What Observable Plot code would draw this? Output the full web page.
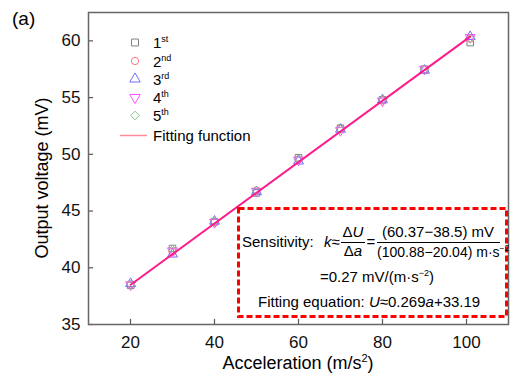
<!DOCTYPE html>
<html>
<head>
<meta charset="utf-8">
<script src="https://cdn.jsdelivr.net/npm/d3@7"></script>
<script src="https://cdn.jsdelivr.net/npm/@observablehq/plot@0.6"></script>
<style>
  html, body { margin: 0; padding: 0; background: #fff; }
  svg text { font-family: "Liberation Sans", Arial, sans-serif; }
</style>
</head>
<body>
<div id="chart"></div>
<script>
// ---- data ----
const accel = [20.04, 30, 40, 50, 60, 70, 80, 90, 100.88];
const run1 = [38.45, 41.7, 44.05, 46.6, 49.7, 52.3, 54.8, 57.5, 59.85];
const run2 = [38.55, 41.4, 44.0, 46.8, 49.55, 52.25, 54.75, 57.45, 60.2];
const run3 = [38.6, 41.2, 44.1, 46.7, 49.4, 52.2, 54.8, 57.4, 60.37];
const run4 = [38.5, 41.5, 44.0, 46.75, 49.5, 52.1, 54.7, 57.5, 60.3];
const run5 = [38.55, 41.6, 44.1, 46.8, 49.6, 52.2, 54.85, 57.5, 60.2];
const fitX = [20.04, 100.88];
const fitY = [38.5, 60.37];
const xTicks = [20, 40, 60, 80, 100];
const yTicks = [35, 40, 45, 50, 55, 60];
const seriesNames = ["1", "2", "3", "4", "5"];
const seriesSup = ["st", "nd", "rd", "th", "th"];
const seriesColors = ["#808080", "#ff7b7b", "#6f6fff", "#ff50ff", "#86c886"];

const triDown = {
  draw(ctx, size) {
    const s3 = Math.sqrt(3);
    const y = -Math.sqrt(size / (s3 * 3));
    ctx.moveTo(0, -y * 2);
    ctx.lineTo(-s3 * y, y);
    ctx.lineTo(s3 * y, y);
    ctx.closePath();
  }
};
const symbols = [d3.symbolSquare, d3.symbolCircle, d3.symbolTriangle, triDown, d3.symbolDiamond2];
const runs = [run1, run2, run3, run4, run5];

const dotMarks = runs.map((vals, i) =>
  Plot.dot(accel.map((a, j) => ({a, v: vals[j]})), {
    x: "a", y: "v", symbol: () => symbols[i], r: 3.7,
    stroke: seriesColors[i], strokeWidth: 1, fill: "none"
  })
);
const fitData = fitX.map((a, j) => ({a, v: fitY[j]}));

const plot = Plot.plot({
  width: 511, height: 378,
  marginLeft: 88, marginRight: 3, marginTop: 12, marginBottom: 54,
  style: {fontFamily: "Liberation Sans, Arial, sans-serif", fontSize: "17px", color: "#000", background: "#fff", overflow: "visible"},
  x: {domain: [10, 110]},
  y: {domain: [35, 62.5]},
  symbol: {type: "identity"},
  marks: [
    Plot.axisX({ticks: xTicks, tickSize: 0, tickPadding: 11, label: null, fontSize: 17, fill: "#111"}),
    Plot.axisY({ticks: yTicks, tickSize: 0, tickPadding: 8, label: null, fontSize: 17, fill: "#111"}),
    Plot.ruleX(xTicks, {x: d => d, y1: 35, y2: 35.45, stroke: "#555", strokeWidth: 1.2}),
    Plot.ruleY(yTicks, {y: d => d, x1: 10, x2: 11.2, stroke: "#555", strokeWidth: 1.2}),
    ...dotMarks,
    Plot.line(fitData, {x: "a", y: "v", stroke: "#ff1a8c", strokeWidth: 2}),
    Plot.frame({stroke: "#666", strokeWidth: 1.5})
  ]
});
document.getElementById("chart").appendChild(plot);

const svg = d3.select(plot);
const FF = "Liberation Sans, Arial, sans-serif";
function txt(x, y, size, anchor) {
  return svg.append("text").attr("x", x).attr("y", y).attr("font-size", size)
    .attr("font-family", FF).attr("text-anchor", anchor || "start").attr("fill", "#000");
}

// panel label
txt(12, 25, 19).text("(a)");

// axis titles
txt(298, 369, 18, "middle")
  .call(t => { t.append("tspan").text("Acceleration (m/s"); t.append("tspan").attr("dy", -7).attr("font-size", 11).text("2"); t.append("tspan").attr("dy", 7).text(")"); });
svg.append("text").attr("transform", "translate(48,178) rotate(-90)").attr("text-anchor", "middle").attr("font-size", 18).attr("font-family", FF)
  .text("Output voltage (mV)");

// legend
const legBase = [48, 66.5, 84.5, 103, 121];
legBase.forEach((b, i) => {
  svg.append("path").attr("d", d3.symbol(symbols[i], i === 1 ? 42 : 48)())
    .attr("transform", `translate(135,${b - 5.5})`).attr("fill", "none").attr("stroke", seriesColors[i]).attr("stroke-width", 1);
  const t = txt(153, b, 15);
  t.append("tspan").text(seriesNames[i]);
  t.append("tspan").attr("dy", -6).attr("font-size", 9).text(seriesSup[i]);
});
svg.append("line").attr("x1", 120).attr("x2", 147).attr("y1", 135.5).attr("y2", 135.5).attr("stroke", "#ff8a9a").attr("stroke-width", 1.5);
txt(153, 141, 15).text("Fitting function");

// annotation box
svg.append("rect").attr("x", 238.5).attr("y", 208.5).attr("width", 268).attr("height", 108)
  .attr("fill", "#fff").attr("stroke", "#ff0000").attr("stroke-width", 3).attr("stroke-dasharray", "6,3");

const fs = 15;
txt(242, 247, fs).text("Sensitivity:");
txt(324, 247, fs).call(t => { t.append("tspan").attr("font-style", "italic").text("k"); t.append("tspan").text("≈"); });
txt(353, 236.5, fs, "middle").call(t => { t.append("tspan").text("Δ"); t.append("tspan").attr("font-style", "italic").text("U"); });
txt(353, 255.5, fs, "middle").call(t => { t.append("tspan").text("Δ"); t.append("tspan").attr("font-style", "italic").text("a"); });
svg.append("line").attr("x1", 341).attr("x2", 365).attr("y1", 242.5).attr("y2", 242.5).attr("stroke", "#000").attr("stroke-width", 1);
txt(371, 247, fs, "middle").text("=");
txt(438, 237, fs, "middle").text("(60.37−38.5) mV");
svg.append("line").attr("x1", 377).attr("x2", 500).attr("y1", 242.5).attr("y2", 242.5).attr("stroke", "#000").attr("stroke-width", 1);
txt(377, 256.5, 14).call(t => { t.append("tspan").text("(100.88−20.04) m·s"); t.append("tspan").attr("dy", -6).attr("font-size", 8.5).text("−2"); });
txt(320, 281.5, fs).call(t => { t.append("tspan").text("=0.27 mV/(m·s"); t.append("tspan").attr("dy", -6).attr("font-size", 9).text("−2"); t.append("tspan").attr("dy", 6).text(")"); });
txt(258, 306.5, fs).call(t => {
  t.append("tspan").text("Fitting equation: ");
  t.append("tspan").attr("font-style", "italic").text("U");
  t.append("tspan").text("≈0.269");
  t.append("tspan").attr("font-style", "italic").text("a");
  t.append("tspan").text("+33.19");
});
</script>
</body>
</html>
